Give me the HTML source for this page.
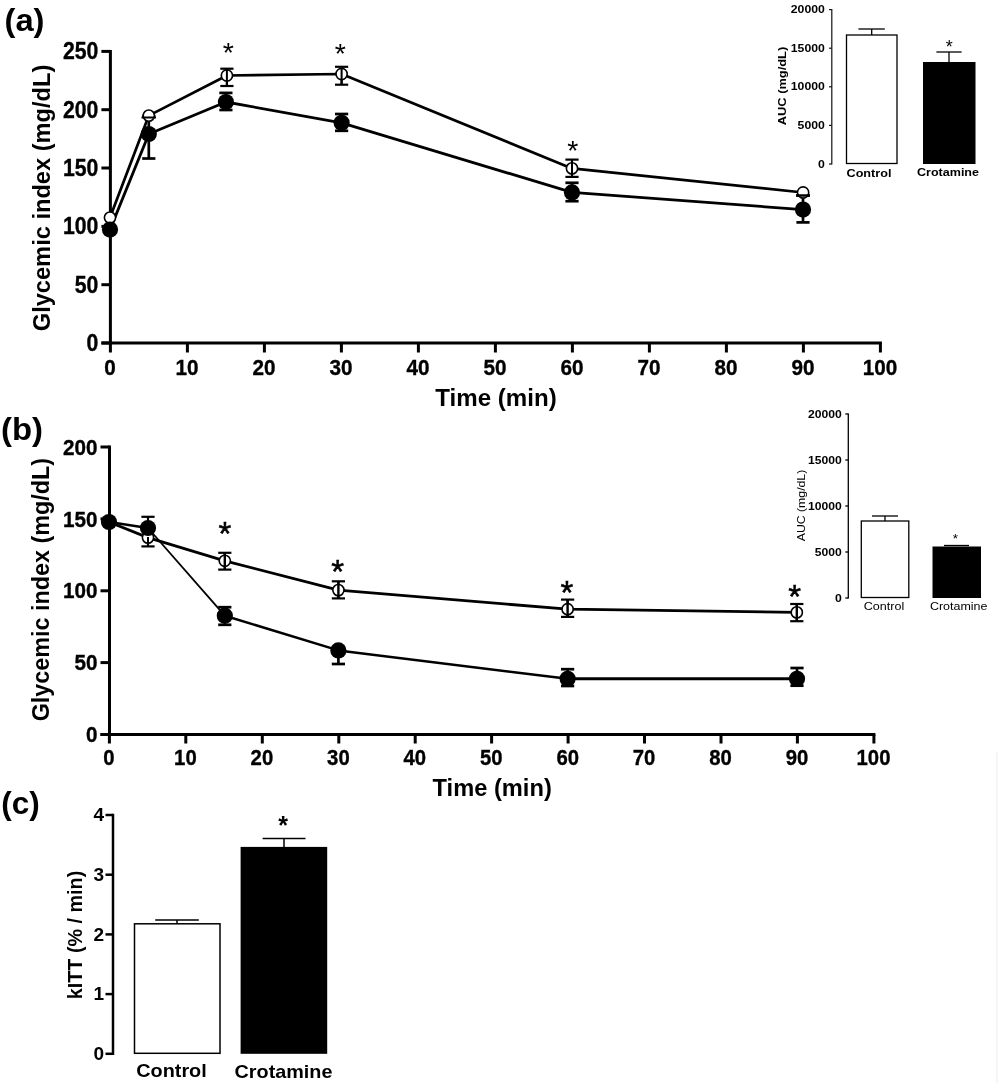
<!DOCTYPE html>
<html><head><meta charset="utf-8"><title>Figure</title>
<style>
html,body{margin:0;padding:0;background:#fff;}
body{width:1000px;height:1083px;overflow:hidden;font-family:"Liberation Sans",sans-serif;}
svg{display:block;filter:grayscale(1);}
text{font-family:"Liberation Sans",sans-serif;fill:#000;}
</style></head>
<body>
<svg width="1000" height="1083" viewBox="0 0 1000 1083">
<rect x="0" y="0" width="1000" height="1083" fill="#fff"/>
<text x="24.5" y="30.5" font-size="32" font-weight="bold" text-anchor="middle" textLength="40" lengthAdjust="spacingAndGlyphs" >(a)</text>
<line x1="110.4" y1="49.9" x2="110.4" y2="344.5" stroke="#000" stroke-width="3" stroke-linecap="butt"/>
<line x1="101.4" y1="343.0" x2="881.9" y2="343.0" stroke="#000" stroke-width="3" stroke-linecap="butt"/>
<line x1="101.4" y1="343.0" x2="110.4" y2="343.0" stroke="#000" stroke-width="3" stroke-linecap="butt"/>
<text x="98.4" y="351.0" font-size="23" font-weight="bold" text-anchor="end" textLength="11.8" lengthAdjust="spacingAndGlyphs" stroke="#000" stroke-width="0.35">0</text>
<line x1="101.4" y1="284.7" x2="110.4" y2="284.7" stroke="#000" stroke-width="3" stroke-linecap="butt"/>
<text x="98.4" y="292.7" font-size="23" font-weight="bold" text-anchor="end" textLength="23.6" lengthAdjust="spacingAndGlyphs" stroke="#000" stroke-width="0.35">50</text>
<line x1="101.4" y1="226.4" x2="110.4" y2="226.4" stroke="#000" stroke-width="3" stroke-linecap="butt"/>
<text x="98.4" y="234.4" font-size="23" font-weight="bold" text-anchor="end" textLength="35.4" lengthAdjust="spacingAndGlyphs" stroke="#000" stroke-width="0.35">100</text>
<line x1="101.4" y1="168.0" x2="110.4" y2="168.0" stroke="#000" stroke-width="3" stroke-linecap="butt"/>
<text x="98.4" y="176.0" font-size="23" font-weight="bold" text-anchor="end" textLength="35.4" lengthAdjust="spacingAndGlyphs" stroke="#000" stroke-width="0.35">150</text>
<line x1="101.4" y1="109.7" x2="110.4" y2="109.7" stroke="#000" stroke-width="3" stroke-linecap="butt"/>
<text x="98.4" y="117.7" font-size="23" font-weight="bold" text-anchor="end" textLength="35.4" lengthAdjust="spacingAndGlyphs" stroke="#000" stroke-width="0.35">200</text>
<line x1="101.4" y1="51.4" x2="110.4" y2="51.4" stroke="#000" stroke-width="3" stroke-linecap="butt"/>
<text x="98.4" y="59.4" font-size="23" font-weight="bold" text-anchor="end" textLength="35.4" lengthAdjust="spacingAndGlyphs" stroke="#000" stroke-width="0.35">250</text>
<line x1="110.4" y1="343.0" x2="110.4" y2="352.5" stroke="#000" stroke-width="3" stroke-linecap="butt"/>
<text x="110.0" y="375" font-size="21.5" font-weight="bold" text-anchor="middle" textLength="11.5" lengthAdjust="spacingAndGlyphs" stroke="#000" stroke-width="0.35">0</text>
<line x1="187.4" y1="343.0" x2="187.4" y2="352.5" stroke="#000" stroke-width="3" stroke-linecap="butt"/>
<text x="187.0" y="375" font-size="21.5" font-weight="bold" text-anchor="middle" textLength="23.0" lengthAdjust="spacingAndGlyphs" stroke="#000" stroke-width="0.35">10</text>
<line x1="264.4" y1="343.0" x2="264.4" y2="352.5" stroke="#000" stroke-width="3" stroke-linecap="butt"/>
<text x="264.0" y="375" font-size="21.5" font-weight="bold" text-anchor="middle" textLength="23.0" lengthAdjust="spacingAndGlyphs" stroke="#000" stroke-width="0.35">20</text>
<line x1="341.4" y1="343.0" x2="341.4" y2="352.5" stroke="#000" stroke-width="3" stroke-linecap="butt"/>
<text x="341.0" y="375" font-size="21.5" font-weight="bold" text-anchor="middle" textLength="23.0" lengthAdjust="spacingAndGlyphs" stroke="#000" stroke-width="0.35">30</text>
<line x1="418.4" y1="343.0" x2="418.4" y2="352.5" stroke="#000" stroke-width="3" stroke-linecap="butt"/>
<text x="418.0" y="375" font-size="21.5" font-weight="bold" text-anchor="middle" textLength="23.0" lengthAdjust="spacingAndGlyphs" stroke="#000" stroke-width="0.35">40</text>
<line x1="495.4" y1="343.0" x2="495.4" y2="352.5" stroke="#000" stroke-width="3" stroke-linecap="butt"/>
<text x="495.0" y="375" font-size="21.5" font-weight="bold" text-anchor="middle" textLength="23.0" lengthAdjust="spacingAndGlyphs" stroke="#000" stroke-width="0.35">50</text>
<line x1="572.4" y1="343.0" x2="572.4" y2="352.5" stroke="#000" stroke-width="3" stroke-linecap="butt"/>
<text x="572.0" y="375" font-size="21.5" font-weight="bold" text-anchor="middle" textLength="23.0" lengthAdjust="spacingAndGlyphs" stroke="#000" stroke-width="0.35">60</text>
<line x1="649.4" y1="343.0" x2="649.4" y2="352.5" stroke="#000" stroke-width="3" stroke-linecap="butt"/>
<text x="649.0" y="375" font-size="21.5" font-weight="bold" text-anchor="middle" textLength="23.0" lengthAdjust="spacingAndGlyphs" stroke="#000" stroke-width="0.35">70</text>
<line x1="726.4" y1="343.0" x2="726.4" y2="352.5" stroke="#000" stroke-width="3" stroke-linecap="butt"/>
<text x="726.0" y="375" font-size="21.5" font-weight="bold" text-anchor="middle" textLength="23.0" lengthAdjust="spacingAndGlyphs" stroke="#000" stroke-width="0.35">80</text>
<line x1="803.4" y1="343.0" x2="803.4" y2="352.5" stroke="#000" stroke-width="3" stroke-linecap="butt"/>
<text x="803.0" y="375" font-size="21.5" font-weight="bold" text-anchor="middle" textLength="23.0" lengthAdjust="spacingAndGlyphs" stroke="#000" stroke-width="0.35">90</text>
<line x1="880.4" y1="343.0" x2="880.4" y2="352.5" stroke="#000" stroke-width="3" stroke-linecap="butt"/>
<text x="880.0" y="375" font-size="21.5" font-weight="bold" text-anchor="middle" textLength="34.5" lengthAdjust="spacingAndGlyphs" stroke="#000" stroke-width="0.35">100</text>
<text x="496" y="405.6" font-size="23.3" font-weight="bold" text-anchor="middle" textLength="121.5" lengthAdjust="spacingAndGlyphs" >Time (min)</text>
<text x="49.8" y="198" font-size="23" font-weight="bold" text-anchor="middle" textLength="266.5" lengthAdjust="spacingAndGlyphs" transform="rotate(-90 49.8 198)" >Glycemic index (mg/dL)</text>
<polyline points="110,217.6 148.8,115.6 226.9,75.5 341.6,74 572,168.4 803.1,192.5" fill="none" stroke="#000" stroke-width="2.7" stroke-linejoin="round"/>
<polyline points="110,229.6 148.8,134 225.9,102 341.6,122.8 572,192.4 803,209.6" fill="none" stroke="#000" stroke-width="2.8" stroke-linejoin="round"/>
<line x1="148.8" y1="116" x2="148.8" y2="158.5" stroke="#000" stroke-width="2.7" stroke-linecap="butt"/>
<line x1="142.20000000000002" y1="116" x2="155.4" y2="116" stroke="#000" stroke-width="2.7" stroke-linecap="butt"/>
<line x1="142.20000000000002" y1="158.5" x2="155.4" y2="158.5" stroke="#000" stroke-width="2.7" stroke-linecap="butt"/>
<line x1="226.9" y1="68.7" x2="226.9" y2="86" stroke="#000" stroke-width="2.2" stroke-linecap="butt"/>
<line x1="220.3" y1="68.7" x2="233.5" y2="68.7" stroke="#000" stroke-width="2.2" stroke-linecap="butt"/>
<line x1="220.3" y1="86" x2="233.5" y2="86" stroke="#000" stroke-width="2.2" stroke-linecap="butt"/>
<line x1="225.9" y1="92.9" x2="225.9" y2="110" stroke="#000" stroke-width="2.7" stroke-linecap="butt"/>
<line x1="219.3" y1="92.9" x2="232.5" y2="92.9" stroke="#000" stroke-width="2.7" stroke-linecap="butt"/>
<line x1="219.3" y1="110" x2="232.5" y2="110" stroke="#000" stroke-width="2.7" stroke-linecap="butt"/>
<line x1="341.6" y1="66.8" x2="341.6" y2="84.7" stroke="#000" stroke-width="2.2" stroke-linecap="butt"/>
<line x1="335.0" y1="66.8" x2="348.20000000000005" y2="66.8" stroke="#000" stroke-width="2.2" stroke-linecap="butt"/>
<line x1="335.0" y1="84.7" x2="348.20000000000005" y2="84.7" stroke="#000" stroke-width="2.2" stroke-linecap="butt"/>
<line x1="341.6" y1="114" x2="341.6" y2="130.8" stroke="#000" stroke-width="2.7" stroke-linecap="butt"/>
<line x1="335.0" y1="114" x2="348.20000000000005" y2="114" stroke="#000" stroke-width="2.7" stroke-linecap="butt"/>
<line x1="335.0" y1="130.8" x2="348.20000000000005" y2="130.8" stroke="#000" stroke-width="2.7" stroke-linecap="butt"/>
<line x1="572" y1="159.6" x2="572" y2="176.9" stroke="#000" stroke-width="2.2" stroke-linecap="butt"/>
<line x1="565.4" y1="159.6" x2="578.6" y2="159.6" stroke="#000" stroke-width="2.2" stroke-linecap="butt"/>
<line x1="565.4" y1="176.9" x2="578.6" y2="176.9" stroke="#000" stroke-width="2.2" stroke-linecap="butt"/>
<line x1="572" y1="182.8" x2="572" y2="201.2" stroke="#000" stroke-width="2.7" stroke-linecap="butt"/>
<line x1="565.4" y1="182.8" x2="578.6" y2="182.8" stroke="#000" stroke-width="2.7" stroke-linecap="butt"/>
<line x1="565.4" y1="201.2" x2="578.6" y2="201.2" stroke="#000" stroke-width="2.7" stroke-linecap="butt"/>
<line x1="803" y1="195.5" x2="803" y2="222.4" stroke="#000" stroke-width="2.7" stroke-linecap="butt"/>
<line x1="796.4" y1="195.5" x2="809.6" y2="195.5" stroke="#000" stroke-width="2.7" stroke-linecap="butt"/>
<line x1="796.4" y1="222.4" x2="809.6" y2="222.4" stroke="#000" stroke-width="2.7" stroke-linecap="butt"/>
<circle cx="110" cy="217.6" r="5.6" fill="#fff" stroke="#000" stroke-width="1.6"/>
<circle cx="148.8" cy="115.6" r="5.6" fill="#fff" stroke="#000" stroke-width="1.6"/>
<circle cx="226.9" cy="75.5" r="5.6" fill="#fff" stroke="#000" stroke-width="1.6"/>
<circle cx="341.6" cy="74" r="5.6" fill="#fff" stroke="#000" stroke-width="1.6"/>
<circle cx="572" cy="168.4" r="5.6" fill="#fff" stroke="#000" stroke-width="1.6"/>
<circle cx="803.1" cy="192.5" r="5.6" fill="#fff" stroke="#000" stroke-width="1.6"/>
<circle cx="110" cy="229.6" r="8.1" fill="#000"/>
<circle cx="148.8" cy="134" r="8.1" fill="#000"/>
<circle cx="225.9" cy="102" r="8.1" fill="#000"/>
<circle cx="341.6" cy="122.8" r="8.1" fill="#000"/>
<circle cx="572" cy="192.4" r="8.1" fill="#000"/>
<circle cx="803" cy="209.6" r="8.1" fill="#000"/>
<line x1="226.9" y1="68.7" x2="226.9" y2="86" stroke="#000" stroke-width="2" stroke-linecap="butt"/>
<line x1="341.6" y1="66.8" x2="341.6" y2="84.7" stroke="#000" stroke-width="2" stroke-linecap="butt"/>
<line x1="572" y1="159.6" x2="572" y2="176.9" stroke="#000" stroke-width="2" stroke-linecap="butt"/>
<line x1="141.5" y1="117.5" x2="156" y2="117.5" stroke="#000" stroke-width="2" stroke-linecap="butt"/>
<line x1="796" y1="195.5" x2="810" y2="195.5" stroke="#000" stroke-width="2.5" stroke-linecap="butt"/>
<text x="228.2" y="61.9" font-size="28.5"  text-anchor="middle" >*</text>
<text x="340.3" y="63.1" font-size="28.5"  text-anchor="middle" >*</text>
<text x="572.7" y="159.7" font-size="28.5"  text-anchor="middle" >*</text>
<line x1="831.8" y1="9.1" x2="831.8" y2="164.5" stroke="#111" stroke-width="1.2" stroke-linecap="butt"/>
<line x1="829.0" y1="164.0" x2="831.8" y2="164.0" stroke="#111" stroke-width="1.2" stroke-linecap="butt"/>
<text x="824.8" y="167.6" font-size="10.5" font-weight="bold" text-anchor="end" textLength="6.8" lengthAdjust="spacingAndGlyphs" >0</text>
<line x1="829.0" y1="125.4" x2="831.8" y2="125.4" stroke="#111" stroke-width="1.2" stroke-linecap="butt"/>
<text x="824.8" y="129.0" font-size="10.5" font-weight="bold" text-anchor="end" textLength="27.2" lengthAdjust="spacingAndGlyphs" >5000</text>
<line x1="829.0" y1="86.8" x2="831.8" y2="86.8" stroke="#111" stroke-width="1.2" stroke-linecap="butt"/>
<text x="824.8" y="90.39999999999999" font-size="10.5" font-weight="bold" text-anchor="end" textLength="34.0" lengthAdjust="spacingAndGlyphs" >10000</text>
<line x1="829.0" y1="48.2" x2="831.8" y2="48.2" stroke="#111" stroke-width="1.2" stroke-linecap="butt"/>
<text x="824.8" y="51.800000000000004" font-size="10.5" font-weight="bold" text-anchor="end" textLength="34.0" lengthAdjust="spacingAndGlyphs" >15000</text>
<line x1="829.0" y1="9.6" x2="831.8" y2="9.6" stroke="#111" stroke-width="1.2" stroke-linecap="butt"/>
<text x="824.8" y="13.2" font-size="10.5" font-weight="bold" text-anchor="end" textLength="34.0" lengthAdjust="spacingAndGlyphs" >20000</text>
<rect x="846.5" y="35" width="50.5" height="128.5" fill="#fff" stroke="#000" stroke-width="1.3"/>
<line x1="871.7" y1="29" x2="871.7" y2="35" stroke="#000" stroke-width="1.3" stroke-linecap="butt"/>
<line x1="858.4" y1="29" x2="884.8" y2="29" stroke="#000" stroke-width="1.3" stroke-linecap="butt"/>
<rect x="923" y="62" width="52.5" height="102" fill="#000"/>
<line x1="949" y1="52" x2="949" y2="62" stroke="#000" stroke-width="1.3" stroke-linecap="butt"/>
<line x1="936.4" y1="52" x2="961.6" y2="52" stroke="#000" stroke-width="1.3" stroke-linecap="butt"/>
<text x="949.3" y="53.0" font-size="18"  text-anchor="middle" >*</text>
<text x="869" y="176.5" font-size="11.5" font-weight="bold" text-anchor="middle" textLength="45" lengthAdjust="spacingAndGlyphs" >Control</text>
<text x="948" y="175.5" font-size="11.5" font-weight="bold" text-anchor="middle" textLength="62" lengthAdjust="spacingAndGlyphs" >Crotamine</text>
<text x="786" y="86" font-size="11" font-weight="bold" text-anchor="middle" textLength="78.5" lengthAdjust="spacingAndGlyphs" transform="rotate(-90 786 86)" >AUC (mg/dL)</text>
<text x="22" y="440.3" font-size="32" font-weight="bold" text-anchor="middle" textLength="42" lengthAdjust="spacingAndGlyphs" >(b)</text>
<line x1="109.5" y1="445.5" x2="109.5" y2="736.0" stroke="#000" stroke-width="3" stroke-linecap="butt"/>
<line x1="100.5" y1="734.5" x2="875.4" y2="734.5" stroke="#000" stroke-width="3" stroke-linecap="butt"/>
<line x1="100.5" y1="734.5" x2="109.5" y2="734.5" stroke="#000" stroke-width="3" stroke-linecap="butt"/>
<text x="97.5" y="742.1" font-size="22" font-weight="bold" text-anchor="end" textLength="11.5" lengthAdjust="spacingAndGlyphs" stroke="#000" stroke-width="0.35">0</text>
<line x1="100.5" y1="662.6" x2="109.5" y2="662.6" stroke="#000" stroke-width="3" stroke-linecap="butt"/>
<text x="97.5" y="670.2" font-size="22" font-weight="bold" text-anchor="end" textLength="23.0" lengthAdjust="spacingAndGlyphs" stroke="#000" stroke-width="0.35">50</text>
<line x1="100.5" y1="590.8" x2="109.5" y2="590.8" stroke="#000" stroke-width="3" stroke-linecap="butt"/>
<text x="97.5" y="598.4" font-size="22" font-weight="bold" text-anchor="end" textLength="34.5" lengthAdjust="spacingAndGlyphs" stroke="#000" stroke-width="0.35">100</text>
<line x1="100.5" y1="518.9" x2="109.5" y2="518.9" stroke="#000" stroke-width="3" stroke-linecap="butt"/>
<text x="97.5" y="526.5" font-size="22" font-weight="bold" text-anchor="end" textLength="34.5" lengthAdjust="spacingAndGlyphs" stroke="#000" stroke-width="0.35">150</text>
<line x1="100.5" y1="447.0" x2="109.5" y2="447.0" stroke="#000" stroke-width="3" stroke-linecap="butt"/>
<text x="97.5" y="454.6" font-size="22" font-weight="bold" text-anchor="end" textLength="34.5" lengthAdjust="spacingAndGlyphs" stroke="#000" stroke-width="0.35">200</text>
<line x1="109.4" y1="734.5" x2="109.4" y2="743.5" stroke="#000" stroke-width="3" stroke-linecap="butt"/>
<text x="109.0" y="765.3" font-size="22" font-weight="bold" text-anchor="middle" textLength="11.3" lengthAdjust="spacingAndGlyphs" stroke="#000" stroke-width="0.35">0</text>
<line x1="185.8" y1="734.5" x2="185.8" y2="743.5" stroke="#000" stroke-width="3" stroke-linecap="butt"/>
<text x="185.4" y="765.3" font-size="22" font-weight="bold" text-anchor="middle" textLength="22.6" lengthAdjust="spacingAndGlyphs" stroke="#000" stroke-width="0.35">10</text>
<line x1="262.3" y1="734.5" x2="262.3" y2="743.5" stroke="#000" stroke-width="3" stroke-linecap="butt"/>
<text x="261.90000000000003" y="765.3" font-size="22" font-weight="bold" text-anchor="middle" textLength="22.6" lengthAdjust="spacingAndGlyphs" stroke="#000" stroke-width="0.35">20</text>
<line x1="338.8" y1="734.5" x2="338.8" y2="743.5" stroke="#000" stroke-width="3" stroke-linecap="butt"/>
<text x="338.40000000000003" y="765.3" font-size="22" font-weight="bold" text-anchor="middle" textLength="22.6" lengthAdjust="spacingAndGlyphs" stroke="#000" stroke-width="0.35">30</text>
<line x1="415.2" y1="734.5" x2="415.2" y2="743.5" stroke="#000" stroke-width="3" stroke-linecap="butt"/>
<text x="414.8" y="765.3" font-size="22" font-weight="bold" text-anchor="middle" textLength="22.6" lengthAdjust="spacingAndGlyphs" stroke="#000" stroke-width="0.35">40</text>
<line x1="491.6" y1="734.5" x2="491.6" y2="743.5" stroke="#000" stroke-width="3" stroke-linecap="butt"/>
<text x="491.20000000000005" y="765.3" font-size="22" font-weight="bold" text-anchor="middle" textLength="22.6" lengthAdjust="spacingAndGlyphs" stroke="#000" stroke-width="0.35">50</text>
<line x1="568.1" y1="734.5" x2="568.1" y2="743.5" stroke="#000" stroke-width="3" stroke-linecap="butt"/>
<text x="567.7" y="765.3" font-size="22" font-weight="bold" text-anchor="middle" textLength="22.6" lengthAdjust="spacingAndGlyphs" stroke="#000" stroke-width="0.35">60</text>
<line x1="644.5" y1="734.5" x2="644.5" y2="743.5" stroke="#000" stroke-width="3" stroke-linecap="butt"/>
<text x="644.1" y="765.3" font-size="22" font-weight="bold" text-anchor="middle" textLength="22.6" lengthAdjust="spacingAndGlyphs" stroke="#000" stroke-width="0.35">70</text>
<line x1="721.0" y1="734.5" x2="721.0" y2="743.5" stroke="#000" stroke-width="3" stroke-linecap="butt"/>
<text x="720.6" y="765.3" font-size="22" font-weight="bold" text-anchor="middle" textLength="22.6" lengthAdjust="spacingAndGlyphs" stroke="#000" stroke-width="0.35">80</text>
<line x1="797.4" y1="734.5" x2="797.4" y2="743.5" stroke="#000" stroke-width="3" stroke-linecap="butt"/>
<text x="797.0" y="765.3" font-size="22" font-weight="bold" text-anchor="middle" textLength="22.6" lengthAdjust="spacingAndGlyphs" stroke="#000" stroke-width="0.35">90</text>
<line x1="873.9" y1="734.5" x2="873.9" y2="743.5" stroke="#000" stroke-width="3" stroke-linecap="butt"/>
<text x="873.5" y="765.3" font-size="22" font-weight="bold" text-anchor="middle" textLength="33.9" lengthAdjust="spacingAndGlyphs" stroke="#000" stroke-width="0.35">100</text>
<text x="492.2" y="796" font-size="23.3" font-weight="bold" text-anchor="middle" textLength="119.2" lengthAdjust="spacingAndGlyphs" >Time (min)</text>
<text x="49" y="589.6" font-size="23" font-weight="bold" text-anchor="middle" textLength="263.5" lengthAdjust="spacingAndGlyphs" transform="rotate(-90 49 589.6)" >Glycemic index (mg/dL)</text>
<polyline points="109,522 148,537.6 224.8,560.8 338.4,590.1 567.6,609.2 796.8,612.4" fill="none" stroke="#000" stroke-width="2.8" stroke-linejoin="round"/>
<polyline points="109,522 148,528" fill="none" stroke="#000" stroke-width="2.6" stroke-linejoin="round"/>
<polyline points="148,528 224.8,615.7" fill="none" stroke="#000" stroke-width="1.8" stroke-linejoin="round"/>
<polyline points="224.8,615.7 338.4,650.4 567.6,678.8" fill="none" stroke="#000" stroke-width="2.5" stroke-linejoin="round"/>
<polyline points="567.6,678.8 797,678.8" fill="none" stroke="#000" stroke-width="3" stroke-linejoin="round"/>
<line x1="148" y1="516.8" x2="148" y2="546.4" stroke="#000" stroke-width="2.2" stroke-linecap="butt"/>
<line x1="141.4" y1="516.8" x2="154.6" y2="516.8" stroke="#000" stroke-width="2.2" stroke-linecap="butt"/>
<line x1="141.4" y1="546.4" x2="154.6" y2="546.4" stroke="#000" stroke-width="2.2" stroke-linecap="butt"/>
<line x1="224.8" y1="552.8" x2="224.8" y2="569.6" stroke="#000" stroke-width="2.2" stroke-linecap="butt"/>
<line x1="218.20000000000002" y1="552.8" x2="231.4" y2="552.8" stroke="#000" stroke-width="2.2" stroke-linecap="butt"/>
<line x1="218.20000000000002" y1="569.6" x2="231.4" y2="569.6" stroke="#000" stroke-width="2.2" stroke-linecap="butt"/>
<line x1="224.8" y1="607.2" x2="224.8" y2="624.8" stroke="#000" stroke-width="2.7" stroke-linecap="butt"/>
<line x1="218.20000000000002" y1="607.2" x2="231.4" y2="607.2" stroke="#000" stroke-width="2.7" stroke-linecap="butt"/>
<line x1="218.20000000000002" y1="624.8" x2="231.4" y2="624.8" stroke="#000" stroke-width="2.7" stroke-linecap="butt"/>
<line x1="338.4" y1="581.3" x2="338.4" y2="598.4" stroke="#000" stroke-width="2.2" stroke-linecap="butt"/>
<line x1="331.79999999999995" y1="581.3" x2="345.0" y2="581.3" stroke="#000" stroke-width="2.2" stroke-linecap="butt"/>
<line x1="331.79999999999995" y1="598.4" x2="345.0" y2="598.4" stroke="#000" stroke-width="2.2" stroke-linecap="butt"/>
<line x1="338.4" y1="647" x2="338.4" y2="664" stroke="#000" stroke-width="2.7" stroke-linecap="butt"/>
<line x1="331.79999999999995" y1="647" x2="345.0" y2="647" stroke="#000" stroke-width="2.7" stroke-linecap="butt"/>
<line x1="331.79999999999995" y1="664" x2="345.0" y2="664" stroke="#000" stroke-width="2.7" stroke-linecap="butt"/>
<line x1="567.6" y1="599.6" x2="567.6" y2="616.9" stroke="#000" stroke-width="2.2" stroke-linecap="butt"/>
<line x1="561.0" y1="599.6" x2="574.2" y2="599.6" stroke="#000" stroke-width="2.2" stroke-linecap="butt"/>
<line x1="561.0" y1="616.9" x2="574.2" y2="616.9" stroke="#000" stroke-width="2.2" stroke-linecap="butt"/>
<line x1="567.6" y1="669.2" x2="567.6" y2="686" stroke="#000" stroke-width="2.7" stroke-linecap="butt"/>
<line x1="561.0" y1="669.2" x2="574.2" y2="669.2" stroke="#000" stroke-width="2.7" stroke-linecap="butt"/>
<line x1="561.0" y1="686" x2="574.2" y2="686" stroke="#000" stroke-width="2.7" stroke-linecap="butt"/>
<line x1="796.8" y1="604" x2="796.8" y2="621.2" stroke="#000" stroke-width="2.2" stroke-linecap="butt"/>
<line x1="790.1999999999999" y1="604" x2="803.4" y2="604" stroke="#000" stroke-width="2.2" stroke-linecap="butt"/>
<line x1="790.1999999999999" y1="621.2" x2="803.4" y2="621.2" stroke="#000" stroke-width="2.2" stroke-linecap="butt"/>
<line x1="797" y1="668" x2="797" y2="685.7" stroke="#000" stroke-width="2.7" stroke-linecap="butt"/>
<line x1="790.4" y1="668" x2="803.6" y2="668" stroke="#000" stroke-width="2.7" stroke-linecap="butt"/>
<line x1="790.4" y1="685.7" x2="803.6" y2="685.7" stroke="#000" stroke-width="2.7" stroke-linecap="butt"/>
<circle cx="148" cy="537.6" r="5.6" fill="#fff" stroke="#000" stroke-width="1.6"/>
<circle cx="224.8" cy="560.8" r="5.6" fill="#fff" stroke="#000" stroke-width="1.6"/>
<circle cx="338.4" cy="590.1" r="5.6" fill="#fff" stroke="#000" stroke-width="1.6"/>
<circle cx="567.6" cy="609.2" r="5.6" fill="#fff" stroke="#000" stroke-width="1.6"/>
<circle cx="796.8" cy="612.4" r="5.6" fill="#fff" stroke="#000" stroke-width="1.6"/>
<circle cx="109" cy="522" r="8.1" fill="#000"/>
<circle cx="148" cy="528" r="8.1" fill="#000"/>
<circle cx="224.8" cy="615.7" r="8.1" fill="#000"/>
<circle cx="338.4" cy="650.4" r="8.1" fill="#000"/>
<circle cx="567.6" cy="678.8" r="8.1" fill="#000"/>
<circle cx="797" cy="678.8" r="8.1" fill="#000"/>
<line x1="148" y1="537" x2="148" y2="546.4" stroke="#000" stroke-width="2" stroke-linecap="butt"/>
<line x1="224.8" y1="552.8" x2="224.8" y2="569.6" stroke="#000" stroke-width="2.4" stroke-linecap="butt"/>
<line x1="338.4" y1="581.3" x2="338.4" y2="598.4" stroke="#000" stroke-width="2.4" stroke-linecap="butt"/>
<line x1="567.6" y1="599.6" x2="567.6" y2="616.9" stroke="#000" stroke-width="2.4" stroke-linecap="butt"/>
<line x1="796.8" y1="604" x2="796.8" y2="621.2" stroke="#000" stroke-width="2.4" stroke-linecap="butt"/>
<text x="224.8" y="544.8" font-size="33"  text-anchor="middle" stroke="#000" stroke-width="0.5">*</text>
<text x="337.7" y="583.0" font-size="33"  text-anchor="middle" stroke="#000" stroke-width="0.5">*</text>
<text x="566.9" y="603.7" font-size="33"  text-anchor="middle" stroke="#000" stroke-width="0.5">*</text>
<text x="794.6" y="607.7" font-size="33"  text-anchor="middle" stroke="#000" stroke-width="0.5">*</text>
<line x1="848.3" y1="413.5" x2="848.3" y2="598.5" stroke="#000" stroke-width="1.3" stroke-linecap="butt"/>
<line x1="845.3" y1="598.0" x2="848.3" y2="598.0" stroke="#000" stroke-width="1.3" stroke-linecap="butt"/>
<text x="841.8" y="601.7" font-size="10.5" font-weight="bold" text-anchor="end" textLength="6.8" lengthAdjust="spacingAndGlyphs" >0</text>
<line x1="845.3" y1="552.0" x2="848.3" y2="552.0" stroke="#000" stroke-width="1.3" stroke-linecap="butt"/>
<text x="841.8" y="555.7" font-size="10.5" font-weight="bold" text-anchor="end" textLength="27.0" lengthAdjust="spacingAndGlyphs" >5000</text>
<line x1="845.3" y1="506.0" x2="848.3" y2="506.0" stroke="#000" stroke-width="1.3" stroke-linecap="butt"/>
<text x="841.8" y="509.7" font-size="10.5" font-weight="bold" text-anchor="end" textLength="33.8" lengthAdjust="spacingAndGlyphs" >10000</text>
<line x1="845.3" y1="460.0" x2="848.3" y2="460.0" stroke="#000" stroke-width="1.3" stroke-linecap="butt"/>
<text x="841.8" y="463.7" font-size="10.5" font-weight="bold" text-anchor="end" textLength="33.8" lengthAdjust="spacingAndGlyphs" >15000</text>
<line x1="845.3" y1="414.0" x2="848.3" y2="414.0" stroke="#000" stroke-width="1.3" stroke-linecap="butt"/>
<text x="841.8" y="417.7" font-size="10.5" font-weight="bold" text-anchor="end" textLength="33.8" lengthAdjust="spacingAndGlyphs" >20000</text>
<rect x="861.3" y="521" width="47.5" height="76.5" fill="#fff" stroke="#000" stroke-width="1.3"/>
<line x1="885" y1="516" x2="885" y2="521" stroke="#000" stroke-width="1.3" stroke-linecap="butt"/>
<line x1="872" y1="516" x2="898" y2="516" stroke="#000" stroke-width="1.3" stroke-linecap="butt"/>
<rect x="932.5" y="546.5" width="48.5" height="51.5" fill="#000"/>
<line x1="944" y1="545.5" x2="969" y2="545.5" stroke="#000" stroke-width="1.3" stroke-linecap="butt"/>
<text x="955.5" y="542.7" font-size="13.5"  text-anchor="middle" >*</text>
<text x="884" y="609.5" font-size="10.5"  text-anchor="middle" textLength="40.5" lengthAdjust="spacingAndGlyphs" >Control</text>
<text x="958.7" y="609.5" font-size="10.5"  text-anchor="middle" textLength="57.5" lengthAdjust="spacingAndGlyphs" >Crotamine</text>
<text x="805" y="505.5" font-size="10.5"  text-anchor="middle" textLength="71.5" lengthAdjust="spacingAndGlyphs" transform="rotate(-90 805 505.5)" >AUC (mg/dL)</text>
<text x="20.5" y="814" font-size="30.5" font-weight="bold" text-anchor="middle" textLength="38.5" lengthAdjust="spacingAndGlyphs" >(c)</text>
<line x1="113.0" y1="813.8" x2="113.0" y2="1055.0" stroke="#000" stroke-width="2.5" stroke-linecap="butt"/>
<line x1="105.5" y1="1053.8" x2="113.0" y2="1053.8" stroke="#000" stroke-width="2.5" stroke-linecap="butt"/>
<text x="104.0" y="1060.1" font-size="18" font-weight="bold" text-anchor="end" textLength="10.6" lengthAdjust="spacingAndGlyphs" >0</text>
<line x1="105.5" y1="994.1" x2="113.0" y2="994.1" stroke="#000" stroke-width="2.5" stroke-linecap="butt"/>
<text x="104.0" y="1000.4" font-size="18" font-weight="bold" text-anchor="end" textLength="10.6" lengthAdjust="spacingAndGlyphs" >1</text>
<line x1="105.5" y1="934.4" x2="113.0" y2="934.4" stroke="#000" stroke-width="2.5" stroke-linecap="butt"/>
<text x="104.0" y="940.6999999999999" font-size="18" font-weight="bold" text-anchor="end" textLength="10.6" lengthAdjust="spacingAndGlyphs" >2</text>
<line x1="105.5" y1="874.7" x2="113.0" y2="874.7" stroke="#000" stroke-width="2.5" stroke-linecap="butt"/>
<text x="104.0" y="881.0" font-size="18" font-weight="bold" text-anchor="end" textLength="10.6" lengthAdjust="spacingAndGlyphs" >3</text>
<line x1="105.5" y1="815.0" x2="113.0" y2="815.0" stroke="#000" stroke-width="2.5" stroke-linecap="butt"/>
<text x="104.0" y="821.3" font-size="18" font-weight="bold" text-anchor="end" textLength="10.6" lengthAdjust="spacingAndGlyphs" >4</text>
<rect x="134.5" y="923.8" width="85.5" height="129.5" fill="#fff" stroke="#000" stroke-width="1.5"/>
<line x1="177.0" y1="920" x2="177.0" y2="924" stroke="#000" stroke-width="1.5" stroke-linecap="butt"/>
<line x1="155.2" y1="920" x2="198.8" y2="920" stroke="#000" stroke-width="1.5" stroke-linecap="butt"/>
<rect x="240.6" y="846.9" width="86.6" height="206.9" fill="#000"/>
<line x1="284.0" y1="838.5" x2="284.0" y2="848" stroke="#000" stroke-width="1.5" stroke-linecap="butt"/>
<line x1="262.6" y1="838.5" x2="305.5" y2="838.5" stroke="#000" stroke-width="1.5" stroke-linecap="butt"/>
<text x="283.2" y="834.1" font-size="25" font-weight="bold" text-anchor="middle" >*</text>
<text x="171.5" y="1076.8" font-size="18.5" font-weight="bold" text-anchor="middle" textLength="70.5" lengthAdjust="spacingAndGlyphs" >Control</text>
<text x="283.5" y="1078.4" font-size="18.5" font-weight="bold" text-anchor="middle" textLength="97.8" lengthAdjust="spacingAndGlyphs" >Crotamine</text>
<text x="82" y="935" font-size="19.5" font-weight="bold" text-anchor="middle" textLength="128.5" lengthAdjust="spacingAndGlyphs" transform="rotate(-90 82 935)" >kITT (% / min)</text>
<rect x="996" y="752" width="2" height="331" fill="#f6f6f6"/>
</svg>
</body></html>
